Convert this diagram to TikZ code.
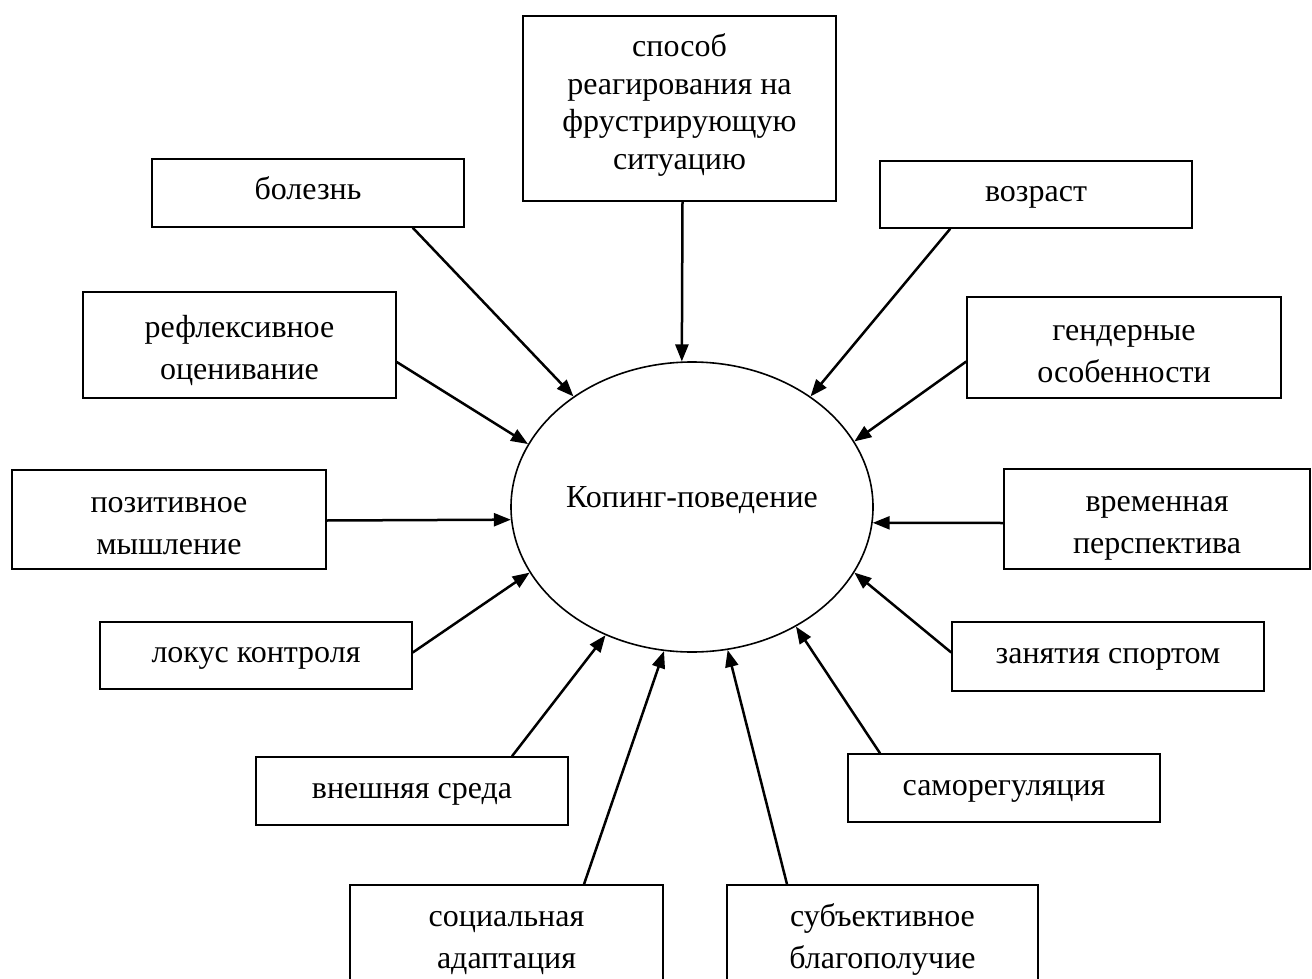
\documentclass[tikz,border=0pt]{standalone}
\usepackage{fontspec}
\setmainfont{Liberation Serif}
\usetikzlibrary{arrows.meta,shapes.geometric,calc}
\newcommand{\mytop}[1]{\rule{0pt}{#1pt}}
\newcommand{\mybot}[1]{\rule[-#1pt]{0pt}{#1pt}}
\begin{document}
\begin{tikzpicture}[x=1pt,y=-1pt,
  box/.style={draw, line width=1.5pt, inner sep=0pt, align=center,
    minimum width=312pt, font=\fontsize{32}{42}\selectfont},
  arr/.style={line width=2.5pt, -{Triangle[length=17pt,width=13pt]}},
  lbl/.style={font=\fontsize{32}{40}\selectfont}]
\useasboundingbox (0,0) rectangle (1312,979);
\clip (0,0) rectangle (1312,979);
\fill[white] (0,0) rectangle (1312,979);

% centre
\node[draw, ellipse, line width=1.6pt, minimum width=362pt, minimum height=290pt, inner sep=0pt] (core) at (692,507) {};
\node[lbl] (coretext) at (692,500) {Копинг-поведение};

% boxes
\node[box, minimum height=185pt, minimum width=313pt, font=\fontsize{32}{38}\selectfont] (sposob) at (679.5,108.5) {\mytop{26}способ\\реагирования на\\фрустрирующую\\ситуацию\mybot{17}};
\node[box, minimum height=68pt] (bolezn) at (308,193) {\mytop{23}болезнь\mybot{10}};
\node[box, minimum height=67pt] (vozrast) at (1036,194.5) {\mytop{23}возраст\mybot{10}};
\node[box, minimum height=106pt, minimum width=313pt] (reflex) at (239.5,345) {\mytop{33}рефлексивное\\оценивание\mybot{7}};
\node[box, minimum height=101pt, minimum width=314pt] (gender) at (1124,347.5) {\mytop{35}гендерные\\особенности\mybot{7}};
\node[box, minimum height=99pt, minimum width=314pt] (pozitiv) at (169,519.5) {\mytop{35}позитивное\\мышление\mybot{7}};
\node[box, minimum height=100pt, minimum width=306pt] (vremen) at (1157,519) {\mytop{33}временная\\перспектива\mybot{7}};
\node[box, minimum height=67pt] (lokus) at (256,655.5) {\mytop{23}локус контроля\mybot{9}};
\node[box, minimum height=69pt] (sport) at (1108,656.5) {\mytop{23}занятия спортом\mybot{9}};
\node[box, minimum height=68pt] (vnesh) at (412,791) {\mytop{23}внешняя среда\mybot{9}};
\node[box, minimum height=68pt] (samoreg) at (1004,788) {\mytop{23}саморегуляция\mybot{9}};
\node[box, minimum height=100pt, minimum width=313pt] (social) at (506.5,935) {\mytop{31}социальная\\адаптация\mybot{7}};
\node[box, minimum height=100pt, minimum width=311pt] (subj) at (882.5,935) {\mytop{31}субъективное\\благополучие\mybot{7}};

% connectors
\draw[arr] ($(sposob.south)+(3,0)$) -- (core.94);
\draw[arr] ($(bolezn.south east)+(-52,0)$) -- (core.137);
\draw[arr] ($(vozrast.south west)+(71,0)$) -- (core.43);
\draw[arr] ($(reflex.east)+(0,17)$) -- (core.159);
\draw[arr] ($(gender.west)+(0,14)$) -- (core.22);
\draw[arr] ($(pozitiv.east)+(0,1)$) -- (core.184);
\draw[arr] ($(vremen.west)+(0,4)$) -- (core.355);
\draw[arr] ($(lokus.east)+(0,-3)$) -- (core.202);
\draw[arr] ($(sport.west)+(0,-4)$) -- (core.338);
\draw[arr] ($(vnesh.north)+(100,0)$) -- (core.236);
\draw[arr] ($(samoreg.north)+(-124,0)$) -- (core.311);
\draw[arr] ($(social.north)+(77.5,0)$) -- (core.259);
\draw[arr] ($(subj.north)+(-95.5,0)$) -- (core.284);
\end{tikzpicture}
\end{document}
